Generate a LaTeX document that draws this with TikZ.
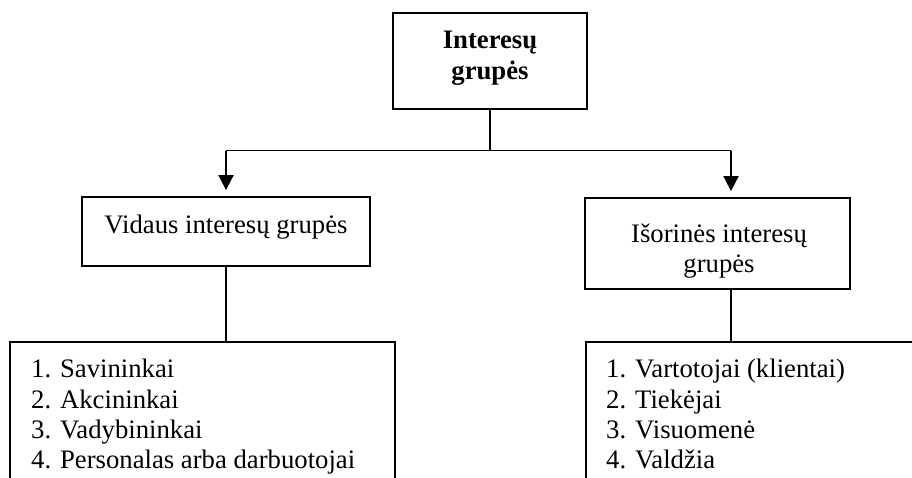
\documentclass[tikz,border=0pt]{standalone}
\usepackage{fontspec}
\setmainfont{Liberation Serif}
\usetikzlibrary{arrows.meta}
\begin{document}
\begin{tikzpicture}[x=1pt,y=-1pt,
  box/.style={draw=black,line width=1.8pt,rectangle,inner sep=0pt},
  lbl/.style={inner sep=0pt,font=\fontsize{26.7}{30}\selectfont},
  wire/.style={line width=1.8pt},
  arr/.style={wire,-{Triangle[length=15pt,width=15pt]},shorten >=6pt}]
\useasboundingbox (0,0) rectangle (912,477);
\clip (0,0) rectangle (912,477);
\fill[white] (0,0) rectangle (912,477);

% boxes
\node[box,minimum width=194pt,minimum height=96pt] (top) at (490,61) {};
\node[box,minimum width=288pt,minimum height=69pt] (vid) at (226,231.5) {};
\node[box,minimum width=265pt,minimum height=91pt] (ext) at (717.5,243.5) {};
\node[box,minimum width=385pt,minimum height=160pt] (vidlist) at (202.5,422) {};
\node[box,minimum width=414pt,minimum height=160pt] (extlist) at (793,422) {};

% texts
\node[lbl,anchor=base,font=\fontsize{26.7}{30}\selectfont\bfseries] (t1) at (490,48) {Interesų};
\node[lbl,anchor=base,font=\fontsize{26.7}{30}\selectfont\bfseries] (t2) at (490,79) {grupės};
\node[lbl,anchor=base] (v1) at (226,233) {Vidaus interesų grupės};
\node[lbl,anchor=base] (e1) at (719,242) {Išorinės interesų};
\node[lbl,anchor=base] (e2) at (719,272) {grupės};

\node[lbl,anchor=base west] (a1) at (31,377) {1. Savininkai};
\node[lbl,anchor=base west] (a2) at (31,408) {2. Akcininkai};
\node[lbl,anchor=base west] (a3) at (31,438) {3. Vadybininkai};
\node[lbl,anchor=base west] (a4) at (31,468) {4. Personalas arba darbuotojai};

\node[lbl,anchor=base west] (b1) at (606,377) {1. Vartotojai (klientai)};
\node[lbl,anchor=base west] (b2) at (606,408) {2. Tiekėjai};
\node[lbl,anchor=base west] (b3) at (606,438) {3. Visuomenė};
\node[lbl,anchor=base west] (b4) at (606,468) {4. Valdžia};

% connectors
\coordinate (split) at (top.south |- 0,150.5);
\coordinate (ljoin) at (226,150.5);
\coordinate (rjoin) at (731,150.5);
\draw[wire] (top.south) -- (split);
\draw[wire] (ljoin) -- (rjoin);
\draw[arr] (ljoin) -- (ljoin |- vid.north);
\draw[arr] (rjoin) -- (rjoin |- ext.north);
\draw[wire] (vid.south) -- (vid.south |- vidlist.north);
\draw[wire] (rjoin |- ext.south) -- (rjoin |- extlist.north);
\end{tikzpicture}
\end{document}
